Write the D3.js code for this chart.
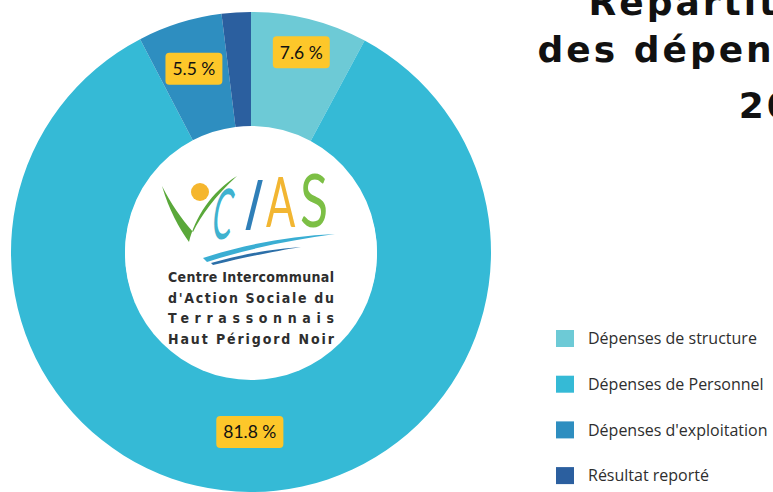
<!DOCTYPE html>
<html><head><meta charset="utf-8">
<script src="https://cdn.jsdelivr.net/npm/d3@7"></script>
<style>html,body{margin:0;padding:0;background:#fff;overflow:hidden}</style>
</head><body><svg id="c" width="773" height="492"></svg>
<script>
const categories = ["Dépenses de structure", "Dépenses de Personnel", "Dépenses d'exploitation", "Résultat reporté"];
const values = [7.6, 81.8, 5.5, 1.9];
const labels = ["7.6 %", "81.8 %", "5.5 %", ""];
const colors = ["#6dcad6", "#35bad6", "#2e8ec0", "#2b5f9f"];
const titleLines = ["Répartition", "des dépenses", "2021"];
const logoLines = ["Centre Intercommunal", "d'Action Sociale du", "Terrassonnais", "Haut Périgord Noir"];

const svg = d3.select("#c");
const cx = 251, cy = 252, R = 240, r0 = 126;
const labelRadius = [206, 180, 192, 190];

const color = d3.scaleOrdinal().domain(categories).range(colors);
const pie = d3.pie().sort(null).value(d => d.v).startAngle(0).endAngle(2*Math.PI);
const data = pie(categories.map((c,i)=>({c, v: values[i], l: labels[i], i})));
const arc = d3.arc().innerRadius(r0).outerRadius(R);

const g = svg.append("g").attr("transform", `translate(${cx},${cy})`);
g.selectAll("path.s").data(data).join("path").attr("class","s")
  .attr("d", arc).attr("fill", d => color(d.data.c));

// center white disc
g.append("circle").attr("cy", 2).attr("r", r0).attr("fill", "#fff");

// labels
const lg = g.selectAll("g.lab").data(data.filter(d => d.data.l)).join("g").attr("class","lab")
  .attr("transform", d => {
    const rr = labelRadius[d.data.i];
    return `translate(${d3.arc().innerRadius(rr).outerRadius(rr).centroid(d)})`;
  });
lg.append("text").attr("text-anchor","middle").attr("dy","0.36em")
  .attr("font-family","Lato, sans-serif").attr("font-size", 17.5).attr("fill","#111")
  .text(d => d.data.l);
lg.each(function(){
  const t = d3.select(this).select("text");
  const b = t.node().getBBox();
  d3.select(this).insert("rect","text").attr("x", b.x-7).attr("y", -16).attr("width", b.width+14)
    .attr("height", 32).attr("rx", 4).attr("fill", "#fdc72a");
});

// logo
const logo = g.append("g");
logo.append("circle").attr("cx",-51).attr("cy",-60).attr("r",9).attr("fill","#f5b62e");
logo.append("path").attr("d","M-89,-66 C-82,-42 -72,-24 -62,-10 C-56,-34 -40,-60 -14,-76 C-36,-56 -50,-36 -58,-20 C-70,-34 -80,-48 -89,-66 Z")
  .attr("fill","#5aa83a");
logo.append("path").attr("d","M-48,6 C-5,-8 40,-16 84,-18 C40,-12 0,-4 -44,10 Z").attr("fill","#3aaed3");
logo.append("path").attr("d","M-40,11 C0,0 25,-3 50,-5 C25,-1 0,4 -38,13 Z").attr("fill","#2c6fa8");
const cias = [["C","#3fb2cf",-41,-13,0.42,-8],["I","#2f7fb8",-10,-22,0.7,-14],["A","#f2b632",15,-25,0.62,0],["S","#7cbf45",49,-25,0.7,0]];
logo.selectAll("text.ci").data(cias).join("text").attr("class","ci")
  .attr("transform", d => `translate(${d[2]},${d[3]}) skewX(${d[5]}) scale(${d[4]},1)`)
  .attr("font-family","Lato, sans-serif").attr("font-weight", 400)
  .attr("font-size", d => d[0]==="S" ? 74 : 70).attr("fill", d=>d[1])
  .text(d=>d[0]);
logo.selectAll("text.ll").data(logoLines).join("text").attr("class","ll")
  .attr("x",-83).attr("y",(d,i)=>30+i*20.5)
  .attr("font-family","'DejaVu Sans Condensed', 'DejaVu Sans', sans-serif").attr("font-weight","bold").attr("font-size",14)
  .attr("fill","#2e2e2e").attr("textLength",166).attr("lengthAdjust","spacing")
  .text(d=>d);

// title
const ty = [15, 62, 118];
svg.selectAll("text.title").data(titleLines).join("text").attr("class","title")
  .attr("x", 851).attr("y", (d,i)=>ty[i]).attr("text-anchor","end")
  .attr("font-family","'DejaVu Sans', sans-serif").attr("font-weight","bold").attr("font-size",36)
  .attr("letter-spacing", 3).attr("fill","#111").text(d=>d);

// legend
const leg = svg.selectAll("g.leg").data(categories).join("g").attr("class","leg")
  .attr("transform",(d,i)=>`translate(556,${330+i*45.7})`);
leg.append("rect").attr("width",18).attr("height",17).attr("fill",d=>color(d));
leg.append("text").attr("x",32).attr("y",8.5).attr("dy","0.35em")
  .attr("font-family","'Open Sans', sans-serif").attr("font-size",16)
  .attr("fill","#2e2e2e").text(d=>d);
</script></body></html>
